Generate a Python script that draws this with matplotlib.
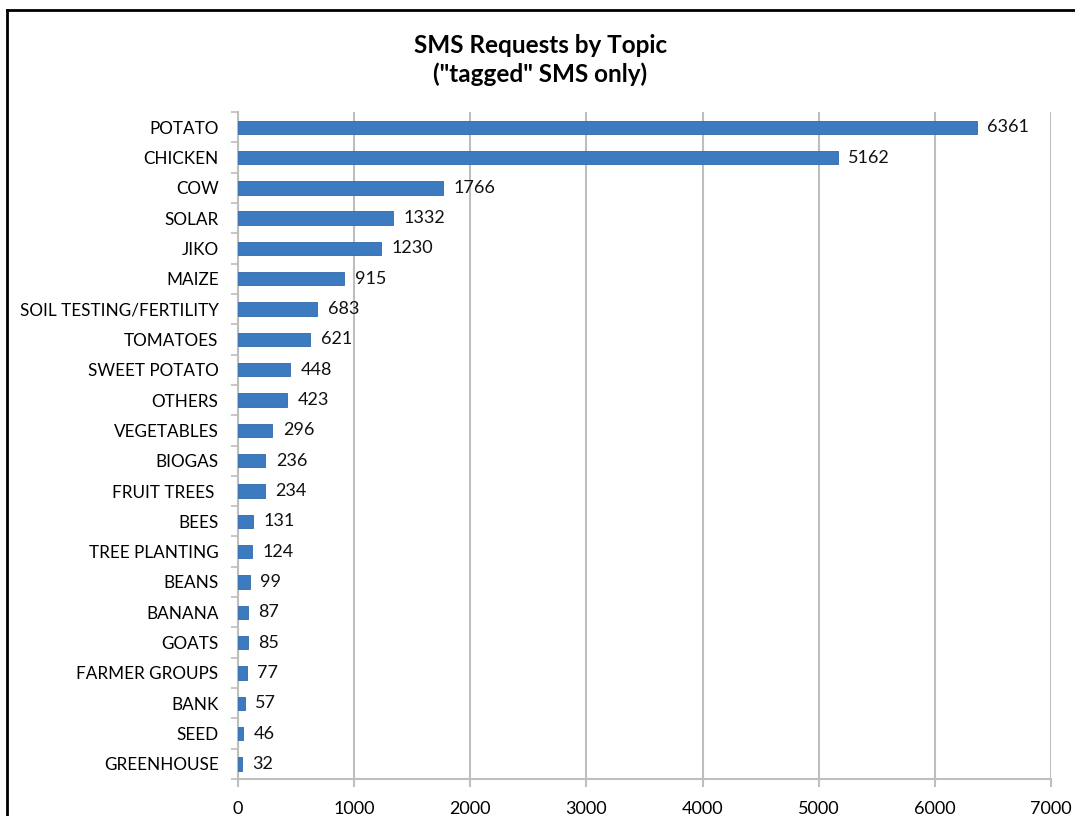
import numpy as np
import matplotlib.pyplot as plt
from matplotlib.lines import Line2D

plt.rcParams.update({
    "font.family": ["Lato", "DejaVu Sans"],
})

topics = ["POTATO", "CHICKEN", "COW", "SOLAR", "JIKO", "MAIZE",
          "SOIL TESTING/FERTILITY", "TOMATOES", "SWEET POTATO", "OTHERS",
          "VEGETABLES", "BIOGAS", "FRUIT TREES ", "BEES", "TREE PLANTING",
          "BEANS", "BANANA", "GOATS", "FARMER GROUPS", "BANK", "SEED",
          "GREENHOUSE"]
requests = [6361, 5162, 1766, 1332, 1230, 915, 683, 621, 448, 423,
            296, 236, 234, 131, 124, 99, 87, 85, 77, 57, 46, 32]
x_ticks = [0, 1000, 2000, 3000, 4000, 5000, 6000, 7000]

BAR_C = "#3C7BC0"
GRID_C = "#BEBEBE"

fig = plt.figure(figsize=(10.75, 8.16), dpi=100)
ax = fig.add_axes([0.2214, 0.0453, 0.7563, 0.8174])

y = np.arange(len(topics))
ax.barh(y, requests, height=0.44, color=BAR_C, edgecolor="#2F6AAB", linewidth=0.6, zorder=3)
for yi, v in zip(y, requests):
    ax.text(v + 90, yi, str(v), va="center", ha="left", fontsize=13, color="#111111")

ax.set_ylim(len(topics) - 0.5, -0.5)
ax.set_xlim(0, 7000)
ax.set_yticks(y)
ax.set_yticklabels(topics, fontsize=12.3)
ax.set_yticks(np.arange(-0.5, len(topics), 1), minor=True)
ax.tick_params(axis="y", which="major", length=0, pad=14)
ax.tick_params(axis="y", which="minor", length=5, width=1.2, color=GRID_C, direction="out")
ax.set_xticks(x_ticks)
ax.set_xticklabels([str(t) for t in x_ticks], fontsize=13)
ax.tick_params(axis="x", length=6, width=1.5, color=GRID_C, direction="out", pad=10)

ax.grid(axis="x", color=GRID_C, linewidth=1.5, zorder=0)
for s in ["top", "right"]:
    ax.spines[s].set_visible(False)
for s in ["left", "bottom"]:
    ax.spines[s].set_color(GRID_C)
    ax.spines[s].set_linewidth(1.5)

fig.text(0.5025, 0.926, 'SMS Requests by Topic\n("tagged" SMS only)', ha="center", va="center",
         fontsize=17.5, fontweight="bold", linespacing=1.27)

# frame cropped on the right and bottom
fig.add_artist(Line2D([0.0065, 1.0], [0.988, 0.988], color="black", linewidth=2))
fig.add_artist(Line2D([0.0065, 0.0065], [0.0, 0.988], color="black", linewidth=2))

plt.savefig("out.png", dpi=100)
plt.close()
